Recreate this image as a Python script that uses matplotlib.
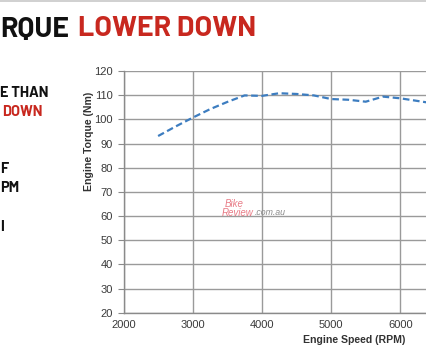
import matplotlib
matplotlib.use("Agg")
import matplotlib.pyplot as plt
from matplotlib.lines import Line2D

plt.rcParams["font.family"] = ["Liberation Sans", "DejaVu Sans"]

rpm = [2500, 2750, 3000, 3250, 3500, 3750, 4000, 4250, 4500, 4750, 5000, 5250, 5500, 5750, 6000, 6250, 6500]
torque = [93.1, 97.0, 100.7, 104.2, 107.2, 109.9, 109.7, 110.8, 110.5, 109.9, 108.4, 108.1, 107.3, 109.4, 108.7, 107.6, 106.5]
xticks = [2000, 3000, 4000, 5000, 6000]
yticks = [20, 30, 40, 50, 60, 70, 80, 90, 100, 110, 120]

W, H = 426, 351
fig = plt.figure(figsize=(W / 100, H / 100), dpi=100)
fig.patch.set_facecolor("white")

ax = fig.add_axes([123.5 / W, 1 - 312.7 / H, 1 - 123.5 / W + 0.02, (312.7 - 71) / H])
ax.set_xlim(2000, 2000 + (426 + 8.5 - 123.5) / 69.2 * 1000)
ax.set_ylim(20, 120)
ax.set_xticks(xticks)
ax.set_yticks(yticks)
ax.grid(True, color="#9a9a9a", linewidth=1.0)
ax.set_axisbelow(True)
for s in ["top", "right"]:
    ax.spines[s].set_visible(False)
for s in ["left", "bottom"]:
    ax.spines[s].set_color("#8a8a8a")
    ax.spines[s].set_linewidth(1.0)
ax.tick_params(axis="both", colors="#8a8a8a", labelcolor="#3a3a3a", labelsize=8, length=4)
ax.tick_params(axis="x", length=0, pad=5)
ax.plot(rpm, torque, color="#3d7dc0", linewidth=1.6, linestyle=(0, (3, 1.6)))

fig.text(89 / W, 1 - 141 / H, "Engine Torque (Nm)", rotation=90, ha="center", va="center",
         fontsize=7.6, fontweight="bold", color="#333333")
fig.text(354 / W, 1 - 340 / H, "Engine Speed (RPM)", ha="center", va="center",
         fontsize=7.6, fontweight="bold", color="#333333")

# watermark
fig.canvas.draw()
r = fig.canvas.get_renderer()
fig.text(225 / W, 1 - 204 / H, "Bike", fontsize=7, style="italic", color="#e87a85", ha="left", va="center")
rv = fig.text(222 / W, 1 - 213 / H, "Review", fontsize=7, style="italic", color="#e87a85", ha="left", va="center")
x_end = rv.get_window_extent(r).x1
fig.text(x_end / W + 0.002, 1 - 213 / H, ".com.au", fontsize=6.3, style="italic", color="#8a8a8a", ha="left", va="center")

# header / side text (cropped poster)
fig.add_artist(Line2D([0, 1], [1 - 0.8 / H, 1 - 0.8 / H], color="#c8c8c8", linewidth=1.2))
fam = ["Barlow", "Barlow Semi Condensed", "DejaVu Sans"]
tfont = dict(family=fam, fontweight="bold", fontsize=20.5, va="center")
fig.text(0 / W, 1 - 29 / H, "RQUE", color="#111111", ha="left", **tfont)
fig.text(78 / W, 1 - 29 / H, "LOWER DOWN", color="#c8281f", ha="left", **tfont)

sfont = dict(family=fam, fontweight="bold", fontsize=10.5, va="center", ha="left")
fig.text(0, 1 - 93 / H, "E THAN", color="#111111", **sfont)
fig.text(2 / W, 1 - 112 / H, "DOWN", color="#c8281f", **sfont)
fig.text(0, 1 - 169 / H, "F", color="#111111", **sfont)
fig.text(0, 1 - 188 / H, "PM", color="#111111", **sfont)
fig.text(0, 1 - 227 / H, "I", color="#111111", **sfont)

fig.savefig("out.png", dpi=100)
